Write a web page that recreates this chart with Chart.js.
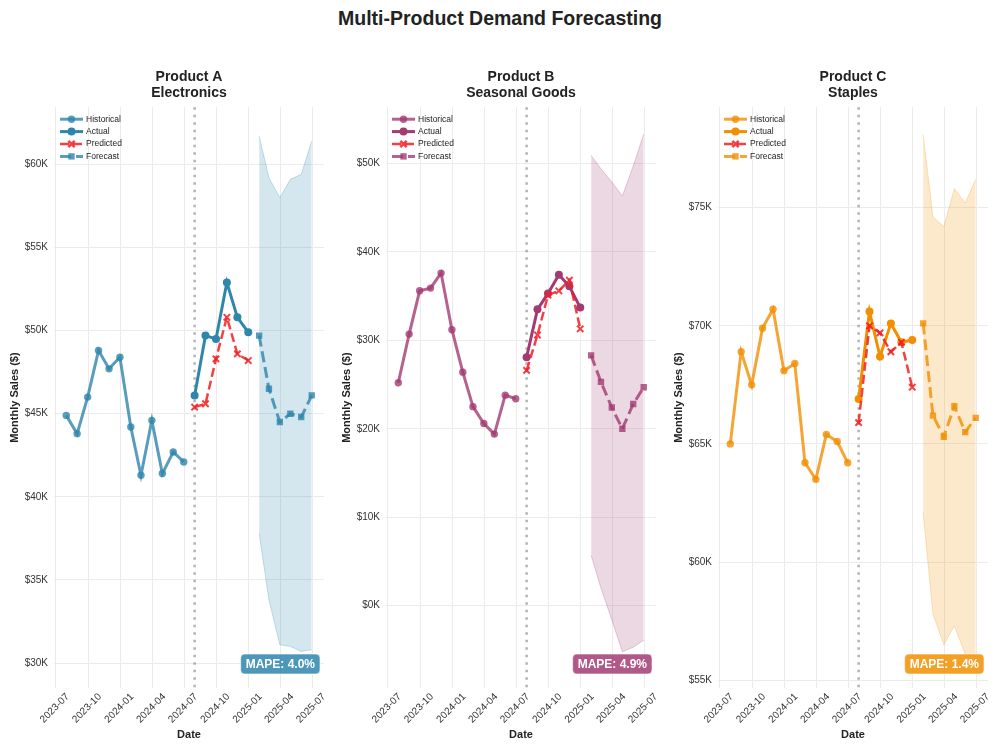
<!DOCTYPE html>
<html>
<head>
<meta charset="utf-8">
<script src="https://cdn.jsdelivr.net/npm/chart.js@4.4.0/dist/chart.umd.min.js"></script>
<style>
  body { margin: 0; background: #fff; width: 1000px; height: 750px; overflow: hidden; position: relative;
         font-family: 'Liberation Sans', Arial, sans-serif; }
  #suptitle { position: absolute; top: 7px; left: 0; width: 1000px; text-align: center;
              font-weight: bold; font-size: 19.5px; line-height: 22px; color: #222; }
  .panel { position: absolute; top: 0; width: 332px; height: 750px; }
</style>
</head>
<body>
<div id="suptitle">Multi-Product Demand Forecasting</div>
<div class="panel" style="left:0"><canvas id="chart-a" width="332" height="750"></canvas></div>
<div class="panel" style="left:332px"><canvas id="chart-b" width="332" height="750"></canvas></div>
<div class="panel" style="left:664px"><canvas id="chart-c" width="332" height="750"></canvas></div>

<script>
// dates (month ends)
const histDates = ['2023-07-31', '2023-08-31', '2023-09-30', '2023-10-31', '2023-11-30', '2023-12-31',
                   '2024-01-31', '2024-02-29', '2024-03-31', '2024-04-30', '2024-05-31', '2024-06-30'];
const testDates = ['2024-07-31', '2024-08-31', '2024-09-30', '2024-10-31', '2024-11-30', '2024-12-31'];
const forecastDates = ['2025-01-31', '2025-02-28', '2025-03-31', '2025-04-30', '2025-05-31', '2025-06-30'];
const splitDate = '2024-07-31';
const xTickLabels = ['2023-07', '2023-10', '2024-01', '2024-04', '2024-07', '2024-10', '2025-01', '2025-04', '2025-07'];

// Product A - Electronics
const aHistorical = [44900, 43800, 46000, 48800, 47700, 48400, 44200, 41300, 44600, 41400, 42700, 42100];
const aActual = [46100, 49700, 49500, 52900, 50800, 49900];
const aPredicted = [45400, 45600, 48300, 50800, 48600, 48200];
const aForecast = [49700, 46500, 44500, 45000, 44800, 46100];
const aUpper = [61700, 59200, 58000, 59100, 59400, 61400];
const aLower = [37800, 33800, 31100, 31000, 30700, 30800];
const aYTicks = [30000, 35000, 40000, 45000, 50000, 55000, 60000];

// Product B - Seasonal Goods
const bHistorical = [25200, 30700, 35600, 35900, 37600, 31200, 26400, 22500, 20600, 19400, 23800, 23400];
const bActual = [28100, 33500, 35300, 37400, 36100, 33700];
const bPredicted = [26600, 30600, 35100, 35600, 36800, 31300];
const bForecast = [28300, 25300, 22400, 20000, 22800, 24700];
const bUpper = [50900, 49400, 47900, 46300, 49700, 53300];
const bLower = [5700, 2000, -1600, -5200, -4700, -3900];
const bYTicks = [0, 10000, 20000, 30000, 40000, 50000];

// Product C - Staples
const cHistorical = [65000, 68900, 67500, 69900, 70700, 68100, 68400, 64200, 63500, 65400, 65100, 64200];
const cActual = [66900, 70600, 68700, 70100, 69300, 69400];
const cPredicted = [65900, 70000, 69700, 68900, 69300, 67400];
const cForecast = [70100, 66200, 65300, 66600, 65500, 66100];
const cUpper = [78100, 74600, 74200, 75800, 75200, 76200];
const cLower = [62100, 57800, 56500, 57300, 56100, 56000];
const cYTicks = [55000, 60000, 65000, 70000, 75000];

const mapeValues = [4.0, 4.9, 1.4];

const FONT = "'Liberation Sans', Arial, sans-serif";
Chart.defaults.font.family = FONT;

const toTime = s => { const [y, m, d] = s.split('-').map(Number); return Date.UTC(y, m - 1, d || 1); };
const pts = (dates, vals) => dates.map((d, i) => ({ x: toTime(d), y: vals[i] }));

const firstT = toTime(histDates[0]);
const lastT = toTime(forecastDates[forecastDates.length - 1]);
const xMin = firstT - 0.05 * (lastT - firstT);
const xMax = lastT + 0.05 * (lastT - firstT);

// split line, legend and MAPE box
const overlay = {
    id: 'overlay',
    beforeDatasetsDraw(chart) {
        const { ctx, chartArea } = chart;
        const px = chart.scales.x.getPixelForValue(toTime(splitDate));
        ctx.save();
        ctx.strokeStyle = 'rgba(128,128,128,0.6)';
        ctx.lineWidth = 2.5;
        ctx.setLineDash([2.5, 5]);
        ctx.beginPath();
        ctx.moveTo(px, chartArea.top);
        ctx.lineTo(px, chartArea.bottom);
        ctx.stroke();
        ctx.restore();
    },
    afterDatasetsDraw(chart, args, opts) {
        const { ctx, chartArea } = chart;
        ctx.save();
        // legend
        let y = chartArea.top + 12;
        const x0 = chartArea.left + 6, x1 = chartArea.left + 29;
        chart.data.datasets.filter(ds => !ds.noLegend).forEach(ds => {
            ctx.strokeStyle = ds.borderColor;
            ctx.lineWidth = ds.borderWidth;
            ctx.setLineDash(ds.borderDash || []);
            ctx.beginPath();
            ctx.moveTo(x0, y);
            ctx.lineTo(x1, y);
            ctx.stroke();
            ctx.setLineDash([]);
            ctx.fillStyle = ds.pointBackgroundColor;
            ctx.strokeStyle = ds.pointBorderColor;
            Chart.helpers.drawPoint(ctx, {
                pointStyle: ds.pointStyle, radius: ds.pointRadius, rotation: 0,
                borderWidth: ds.pointBorderWidth
            }, (x0 + x1) / 2, y);
            ctx.fillStyle = '#222';
            ctx.font = '8.5px ' + FONT;
            ctx.textBaseline = 'middle';
            ctx.textAlign = 'left';
            ctx.fillText(ds.label, x1 + 3, y);
            y += 12.4;
        });
        // MAPE box
        const text = 'MAPE: ' + opts.mape.toFixed(1) + '%';
        ctx.font = 'bold 12px ' + FONT;
        const w = ctx.measureText(text).width + 10, h = 20;
        const bx = chartArea.right - 4 - w, by = chartArea.bottom - 14 - h;
        ctx.fillStyle = opts.boxColor;
        ctx.strokeStyle = 'rgba(255,255,255,0.6)';
        ctx.lineWidth = 1;
        ctx.beginPath();
        ctx.roundRect(bx, by, w, h, 4);
        ctx.fill();
        ctx.stroke();
        ctx.fillStyle = '#fff';
        ctx.textAlign = 'center';
        ctx.textBaseline = 'middle';
        ctx.fillText(text, bx + w / 2, by + h / 2 + 0.5);
        ctx.restore();
    }
};

function buildChart(canvasId, p) {
    const rgba = a => `rgba(${p.rgb.join(',')},${a})`;
    const red = 'rgba(240,30,35,0.85)';
    return new Chart(document.getElementById(canvasId), {
        type: 'line',
        plugins: [overlay],
        data: {
            datasets: [
                { label: 'Historical', data: pts(histDates, p.historical), borderColor: rgba(0.8), borderWidth: 3,
                  pointStyle: 'circle', pointRadius: 3.7, pointBackgroundColor: rgba(0.8), pointBorderColor: rgba(0.8),
                  pointBorderWidth: 0, order: 4 },
                { label: 'Actual', data: pts(testDates, p.actual), borderColor: rgba(1), borderWidth: 3,
                  pointStyle: 'circle', pointRadius: 4, pointBackgroundColor: rgba(1), pointBorderColor: rgba(1),
                  pointBorderWidth: 0, order: 2 },
                { label: 'Predicted', data: pts(testDates, p.predicted), borderColor: red, borderWidth: 2.5,
                  borderDash: [9, 4], pointStyle: 'crossRot', pointRadius: 4.5, pointBackgroundColor: red,
                  pointBorderColor: red, pointBorderWidth: 2, order: 1 },
                { label: 'Forecast', data: pts(forecastDates, p.forecast), borderColor: rgba(0.8), borderWidth: 3,
                  borderDash: [11, 5], pointStyle: 'rect', pointRadius: 4.5, pointBackgroundColor: rgba(0.8),
                  pointBorderColor: rgba(0.8), pointBorderWidth: 0, order: 3 },
                { label: 'Upper', data: pts(forecastDates, p.upper), fill: '+1', backgroundColor: rgba(0.2),
                  borderColor: rgba(0.25), borderWidth: 1, pointRadius: 0, order: 10, noLegend: true },
                { label: 'Lower', data: pts(forecastDates, p.lower), fill: false,
                  borderColor: rgba(0.25), borderWidth: 1, pointRadius: 0, order: 11, noLegend: true }
            ]
        },
        options: {
            responsive: false,
            animation: false,
            events: [],
            layout: { padding: { left: 4, right: 8, top: 0, bottom: 6 } },
            elements: { line: { tension: 0 } },
            plugins: {
                legend: { display: false },
                tooltip: { enabled: false },
                title: {
                    display: true, text: p.title, fullSize: false, color: '#222',
                    font: { size: 14, weight: 'bold', lineHeight: 1.15 },
                    padding: { top: 69, bottom: 6 }
                },
                overlay: { mape: p.mape, boxColor: rgba(0.85) }
            },
            scales: {
                x: {
                    type: 'linear', min: xMin, max: xMax,
                    border: { display: false },
                    grid: { color: '#ebebeb', lineWidth: 1, drawTicks: false },
                    afterBuildTicks: s => { s.ticks = xTickLabels.map(l => ({ value: toTime(l) })); },
                    afterFit: s => { s.height = 56; },
                    ticks: {
                        autoSkip: false, maxRotation: 45, minRotation: 45, padding: 3, labelOffset: 12,
                        color: '#333', font: { size: 10 },
                        callback: (v, i) => xTickLabels[i]
                    },
                    title: { display: true, text: 'Date', color: '#222', font: { size: 11, weight: 'bold' },
                             padding: { top: 0, bottom: 2 } }
                },
                y: {
                    min: p.yMin, max: p.yMax,
                    border: { display: false },
                    grid: { color: '#ebebeb', lineWidth: 1, drawTicks: false },
                    afterBuildTicks: s => { s.ticks = p.yTicks.map(v => ({ value: v })); },
                    afterFit: s => { s.width = 50; },
                    ticks: {
                        padding: 6, color: '#333', font: { size: 10 },
                        callback: v => '$' + Math.round(v / 1000) + 'K'
                    },
                    title: { display: true, text: 'Monthly Sales ($)', color: '#222',
                             font: { size: 11, weight: 'bold' }, padding: { top: 4, bottom: 0 } }
                }
            }
        }
    });
}

buildChart('chart-a', {
    title: ['Product A', 'Electronics'], rgb: [46, 134, 171],
    historical: aHistorical, actual: aActual, predicted: aPredicted, forecast: aForecast,
    upper: aUpper, lower: aLower, yTicks: aYTicks, yMin: 28500, yMax: 63440, mape: mapeValues[0]
});
buildChart('chart-b', {
    title: ['Product B', 'Seasonal Goods'], rgb: [162, 59, 114],
    historical: bHistorical, actual: bActual, predicted: bPredicted, forecast: bForecast,
    upper: bUpper, lower: bLower, yTicks: bYTicks, yMin: -9300, yMax: 56350, mape: mapeValues[1]
});
buildChart('chart-c', {
    title: ['Product C', 'Staples'], rgb: [241, 143, 1],
    historical: cHistorical, actual: cActual, predicted: cPredicted, forecast: cForecast,
    upper: cUpper, lower: cLower, yTicks: cYTicks, yMin: 54670, yMax: 79250, mape: mapeValues[2]
});
</script>
</body>
</html>
